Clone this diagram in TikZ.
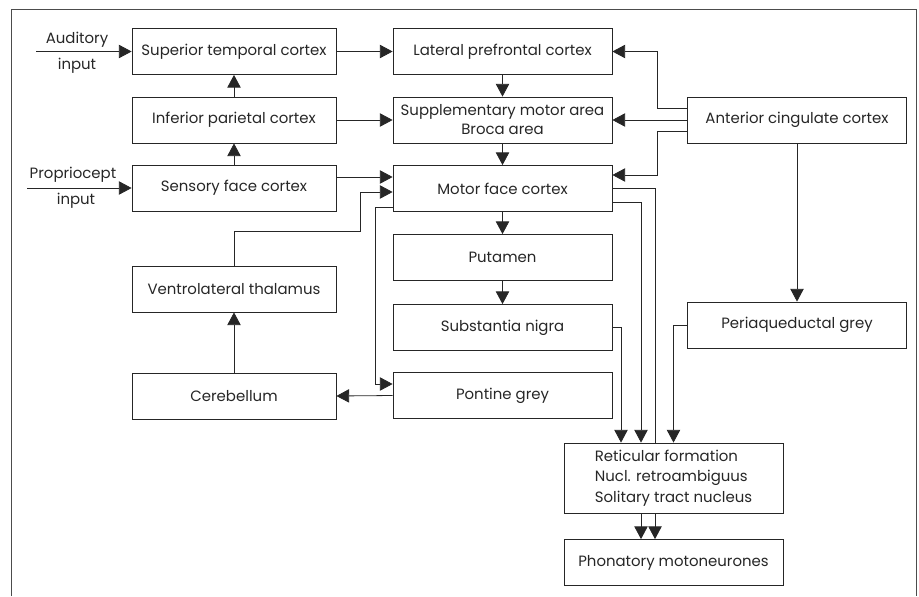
\documentclass[tikz,border=0pt]{standalone}
\usepackage{fontspec}
\setmainfont{Poppins}
\usetikzlibrary{positioning,arrows.meta,calc}

\begin{document}
\begin{tikzpicture}[x=0.75pt,y=-0.75pt,black!85,line width=0.6pt,
    box/.style={draw,minimum width=153pt,minimum height=34.5pt,inner sep=1pt,align=center,font=\fontsize{11.2}{14.2}\selectfont},
    wbox/.style={box,minimum width=164.25pt},
    lbl/.style={inner sep=0pt,font=\fontsize{11.2}{14.2}\selectfont},
    arr/.style={-{Triangle[length=9.5pt,width=10pt]}}]
    \useasboundingbox (0,0) rectangle (919,596);
    \draw[black!70] (11,596) -- (11,9) -- (916,9) -- (916,596);

    \node[box] (stc) at (234,51.5) {Superior temporal cortex};
    \node[box] (ipc) at (234,120) {Inferior parietal cortex};
    \node[box] (sfc) at (234,188) {Sensory face cortex};
    \node[box] (vlt) at (234,289) {Ventrolateral thalamus};
    \node[box] (cer) at (234,396) {Cerebellum};

    \node[wbox] (lpc) at (502.5,51.5) {Lateral prefrontal cortex};
    \node[wbox] (sma) at (502.5,120) {Supplementary motor area\\Broca area};
    \node[wbox] (mfc) at (502.5,188.5) {Motor face cortex};
    \node[wbox] (put) at (502.5,257.5) {Putamen};
    \node[wbox] (sn) at (502.5,327.5) {Substantia nigra};
    \node[wbox] (pg) at (502.5,395.5) {Pontine grey};

    \node[wbox] (acc) at (797,120) {Anterior cingulate cortex};
    \node[wbox] (pag) at (797,325) {Periaqueductal grey};

    \node[wbox,minimum height=52.5pt,align=left,font=\fontsize{11.2}{15.5}\selectfont] (ret) at (673.5,478) {Reticular formation\\Nucl. retroambiguus\\Solitary tract nucleus};
    \node[wbox] (phon) at (673.5,562.5) {Phonatory motoneurones};

    \coordinate (aud) at (36,51.5);
    \coordinate (prop) at (27,188);
    \node[lbl] (audtop) at (77,40) {Auditory};
    \node[lbl] (audbot) at (77,66) {input};
    \node[lbl] (proptop) at (73,175) {Propriocept};
    \node[lbl] (propbot) at (76,201) {input};

    \draw[arr] (aud) -- (stc.west);
    \draw[arr] (prop) -- (sfc.west);
    \draw[arr] (stc.east) -- (lpc.west);
    \draw[arr] (ipc.north) -- (stc.south);
    \draw[arr] (sfc.north) -- (ipc.south);
    \draw[arr] (ipc.east) -- (sma.west);
    \draw[arr] ($(sfc.east)+(0,-11)$) -- ($(mfc.west)+(0,-11.5)$);
    \draw[arr] (vlt.north) |- (360,231) |- ($(mfc.west)+(0,3.5)$);
    \draw[arr] ($(mfc.west)+(0,18.5)$) -| (375,384) -- ($(pg.west)+(0,-11.5)$);
    \draw[arr] (pg.west) -- (cer.east);
    \draw[arr] (cer.north) -- (vlt.south);

    \draw[arr] (lpc.south) -- (sma.north);
    \draw[arr] (sma.south) -- (mfc.north);
    \draw[arr] (mfc.south) -- (put.north);
    \draw[arr] (put.south) -- (sn.north);

    \draw[arr] ($(acc.west)+(0,-11.5)$) -| ($(lpc.east)+(45,0)$) -- (lpc.east);
    \draw[arr] (acc.west) -- (sma.east);
    \draw[arr] ($(acc.west)+(0,11)$) -| ($(mfc.east)+(45,-13.5)$) -- ($(mfc.east)+(0,-13.5)$);
    \draw[arr] (acc.south) -- (pag.north);

    \draw (mfc.east) -| ($(ret.north)+(-18.5,0)$);
    \draw[arr] ($(mfc.east)+(0,13.5)$) -| ($(ret.north)+(-32.5,0)$);
    \draw[arr] (sn.east) -| ($(ret.north)+(-52.5,0)$);
    \draw[arr] (pag.west) -| (ret.north);

    \draw[arr] ($(ret.south)+(-32.5,0)$) -- ($(phon.north)+(-32.5,0)$);
    \draw[arr] ($(ret.south)+(-18.5,0)$) -- ($(phon.north)+(-18.5,0)$);
\end{tikzpicture}
\end{document}
